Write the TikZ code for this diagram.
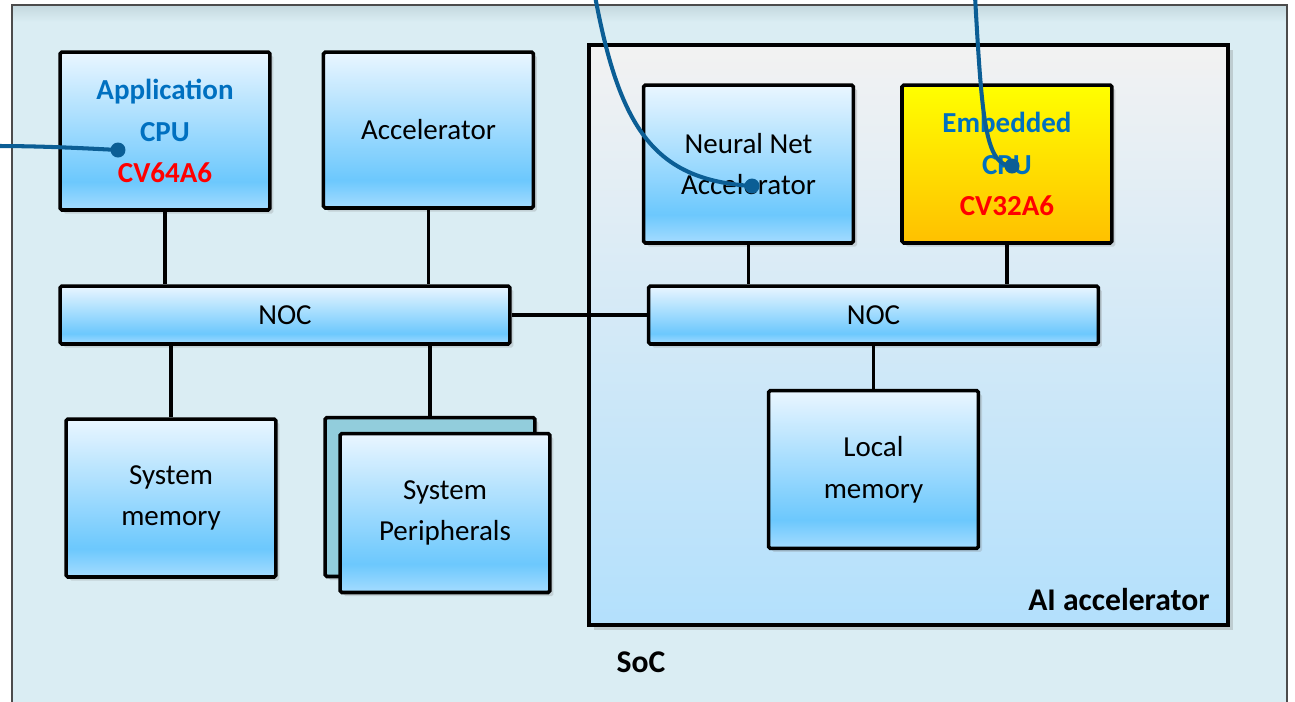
\documentclass[tikz,border=0pt]{standalone}
\usepackage{fontspec}
\setmainfont{Carlito}
\usepackage{xcolor}
\usepackage{tikz}
\usetikzlibrary{positioning,calc,shadows}

\definecolor{socbg}{HTML}{DAEDF3}
\definecolor{socedge}{HTML}{C4D8DE}
\definecolor{boxtop}{HTML}{EAF6FF}
\definecolor{boxdeep}{HTML}{6CC8FD}
\definecolor{boxlow}{HTML}{A5DCFF}
\definecolor{aitop}{HTML}{F2F2F2}
\definecolor{aibot}{HTML}{B3E0FC}
\definecolor{periback}{HTML}{92CDDC}
\definecolor{cpublue}{HTML}{0070C0}
\definecolor{wireblue}{HTML}{0B5E95}

\pgfdeclareverticalshading{boxgrad}{100bp}{color(0bp)=(boxlow); color(25bp)=(boxlow); color(34bp)=(boxdeep); color(75bp)=(boxtop); color(100bp)=(boxtop)}

\begin{document}
\begin{tikzpicture}[
  x=0.02cm, y=-0.02cm,
  font=\fontsize{16.5}{23.8}\selectfont,
  frame/.style={draw, line width=2pt, rounded corners=1pt, align=center, minimum width=4.2cm, minimum height=3.16cm, inner sep=2pt, drop shadow={shadow xshift=2pt, shadow yshift=-2pt, opacity=0.25}},
  box/.style={frame, shading=boxgrad},
  noc/.style={box, minimum width=9cm, minimum height=1.16cm},
  cpu/.style={box, text=cpublue, font=\fontsize{16.5}{23.8}\selectfont\bfseries},
  link/.style={line width=1.9pt},
  wire/.style={wireblue, line width=2.3pt},
  dot/.style={circle, fill=wireblue, inner sep=0pt, minimum size=0.3cm},
  tag/.style={font=\fontsize{18}{20}\selectfont\bfseries}
]
\useasboundingbox (0,0) rectangle (1295,701);

% SoC frame
\fill[socbg] (12,5) rectangle (1287,712);
\shade[top color=socedge, bottom color=socbg] (12,5) rectangle (1287,22);
\draw[black!70, line width=0.8pt] (12,712) -- (12,5) -- (1287,5) -- (1287,712);
\node[tag] (soc) at (641,662) {SoC};

% AI accelerator frame
\node[draw, line width=2pt, top color=aitop, bottom color=aibot, minimum width=12.78cm, minimum height=11.6cm, drop shadow={shadow xshift=3pt, shadow yshift=-3pt, opacity=0.3}] (aiacc) at (908.5,335) {};
\node[tag, anchor=east] (ailbl) at ($(aiacc.south east)+(-14,-27)$) {AI accelerator};

% host side
\node[cpu] (appcpu) at (165,131) {Application\\CPU\\\textcolor{red}{CV64A6}};
\node[box, right=1.0cm of appcpu.north east, anchor=north west, minimum height=3.12cm] (accel) {Accelerator};
\node[noc] (noc1) at (285,315) {NOC};
\node[box] (sysmem) at (171,498) {System\\memory};
\node[frame, fill=periback, minimum height=3.18cm] (periback) at (430,497) {};
\node[box, minimum height=3.18cm] (periph) at (445,513) {System\\Peripherals};

% accelerator side
\node[box] (nna) at (748.5,164) {Neural Net\\Accelerator};
\node[frame, right=0.9cm of nna, text=cpublue, font=\fontsize{16.5}{23.8}\selectfont\bfseries, top color=yellow, bottom color={rgb,255:red,255;green,192;blue,0}] (ecpu) {Embedded\\CPU\\\textcolor{red}{CV32A6}};
\node[noc] (noc2) at (873.5,315) {NOC};
\node[box, below=0.86cm of noc2] (locmem) {Local\\memory};

% links
\draw[link] (appcpu.south) -- (appcpu.south |- noc1.north);
\draw[link] (accel.south) -- (accel.south |- noc1.north);
\draw[link] (sysmem.north) -- (sysmem.north |- noc1.south);
\draw[link] (periback.north) -- (periback.north |- noc1.south);
\draw[link] (noc1.east) -- (noc2.west);
\draw[link] (nna.south) -- (nna.south |- noc2.north);
\draw[link] (ecpu.south) -- (ecpu.south |- noc2.north);
\draw[link] (locmem.north) -- (noc2.south);

% probe wires
\coordinate (wa) at (-4,146);
\coordinate (wb) at (595,-4);
\coordinate (wc) at (975,-4);
\node[dot] (da) at (118,150) {};
\node[dot] (db) at (752,186) {};
\node[dot] (dc) at (1012,166) {};
\draw[wire] (wa) .. controls (40,146) and (80,148) .. (da.center);
\draw[wire] (wb) .. controls (620,130) and (655,180) .. (db.center);
\draw[wire] (wc) .. controls (982,120) and (985,165) .. (dc.center);
\end{tikzpicture}
\end{document}
